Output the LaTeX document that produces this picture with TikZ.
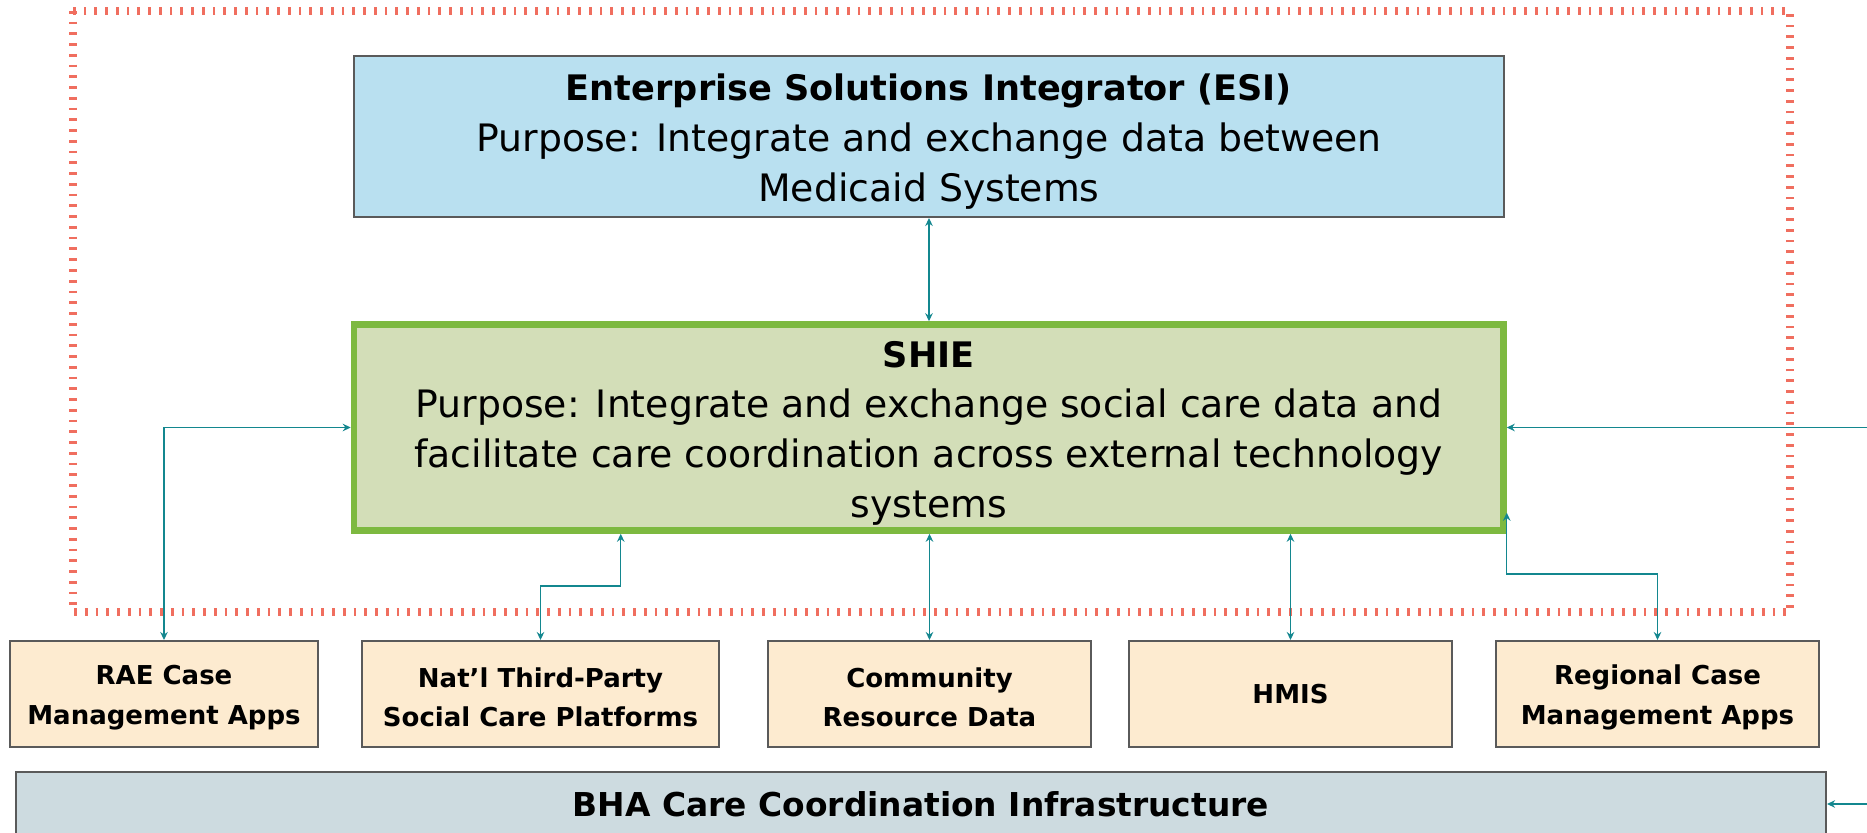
\documentclass[tikz,border=0pt]{standalone}
\usepackage{fontspec}
\setmainfont{DejaVu Sans}
\usepackage{tikz}
\usetikzlibrary{calc,arrows.meta}

\definecolor{esiblue}{HTML}{B9E0F0}
\definecolor{shiefill}{HTML}{D3DEB8}
\definecolor{shiegreen}{HTML}{7DB940}
\definecolor{appfill}{HTML}{FDEBD0}
\definecolor{bhafill}{HTML}{CDDBE0}
\definecolor{boxgray}{HTML}{5A5A5A}
\definecolor{linkteal}{HTML}{13878F}
\definecolor{framered}{HTML}{F06E5F}

\newcommand{\purposefont}{\fontsize{21.5pt}{28.5pt}\selectfont}
\newcommand{\titlefont}{\fontsize{20pt}{28.5pt}\selectfont\bfseries}
\newcommand{\appfont}{\fontsize{14.8pt}{22.6pt}\selectfont\bfseries}
\newcommand{\lift}[1]{\rule{0pt}{#1}}

\tikzset{
	esibox/.style={draw=boxgray,fill=esiblue,line width=0.4mm,inner sep=0pt,align=center,
		minimum width=230mm,minimum height=32.2mm,font=\purposefont},
	shiebox/.style={draw=shiegreen,fill=shiefill,line width=1.3mm,inner sep=0pt,align=center,
		minimum width=229.9mm,minimum height=41.2mm,font=\purposefont},
	appbox/.style={draw=boxgray,fill=appfill,line width=0.4mm,inner sep=0pt,align=center,
		minimum height=21.2mm,font=\appfont},
	bhabox/.style={draw=boxgray,fill=bhafill,line width=0.4mm,inner sep=0pt,align=center,
		minimum width=362mm,minimum height=12.8mm,font=\fontsize{18.7pt}{22pt}\selectfont\bfseries},
	link/.style={draw=linkteal,line width=0.25mm,
		{Stealth[length=1.6mm,width=1.5mm]}-{Stealth[length=1.6mm,width=1.5mm]}},
	linkin/.style={draw=linkteal,line width=0.25mm,-{Stealth[length=1.6mm,width=1.5mm]}},
	zone/.style={draw=framered,line width=1.6mm,dash pattern=on 0.55mm off 1.6mm}
}

\begin{document}
\begin{tikzpicture}[x=0.2mm,y=-0.2mm]
		\useasboundingbox[fill=white] (0,0) rectangle (1867,833);
		\coordinate (shieext) at (1867,427.5);
		\coordinate (bhaext) at (1867,804);
		
		%dotted zone
		\draw[zone] (73,11) rectangle (1790,612);
		
		\node[esibox] (esi) at (929,136.5) {{\titlefont\lift{21pt}Enterprise Solutions Integrator (ESI)}\\
			Purpose: Integrate and exchange data between\\Medicaid Systems};
		\node[shiebox] (shie) at (928.75,427.5) {{\titlefont\lift{21.5pt}SHIE}\\
			Purpose: Integrate and exchange social care data and\\
			facilitate care coordination across external technology\\systems};
		
		%apps
		\foreach \nm/\cx/\bw/\txt in {rae/164/61.6/{\lift{15pt}RAE Case\\Management Apps},
			nat/540.5/71.4/{\lift{15pt}Nat’l Third-Party\\Social Care Platforms},
			comm/929.5/64.6/{\lift{15pt}Community\\Resource Data},
			hmis/1290.5/64.6/{HMIS},
			reg/1657.5/64.6/{\lift{15pt}Regional Case\\Management Apps}}{
			\node[appbox,minimum width=\bw mm] (\nm) at (\cx,694) {\txt};
		}
		\node[bhabox] (bha) at (921,804) {BHA Care Coordination Infrastructure};
		
		%links
		\draw[link] (esi.south) -- (esi.south |- shie.north);
		\draw[link] (shie.west) -| (rae.north);
		\draw[link] (nat.north) -- ++(0,-54) -| ($(shie.south west)+(270,0)$);
		\foreach \nm in {comm,hmis}{
			\draw[link] (\nm.north) -- (\nm.north |- shie.south);
		}
		\draw[link] (reg.north) -- ++(0,-66) -| ($(shie.south east)+(0,-21)$);
		\draw[linkin] (shieext) -- (shie.east);
		\draw[linkin] (bhaext) -- (bha.east);
		
\end{tikzpicture}
\end{document}
